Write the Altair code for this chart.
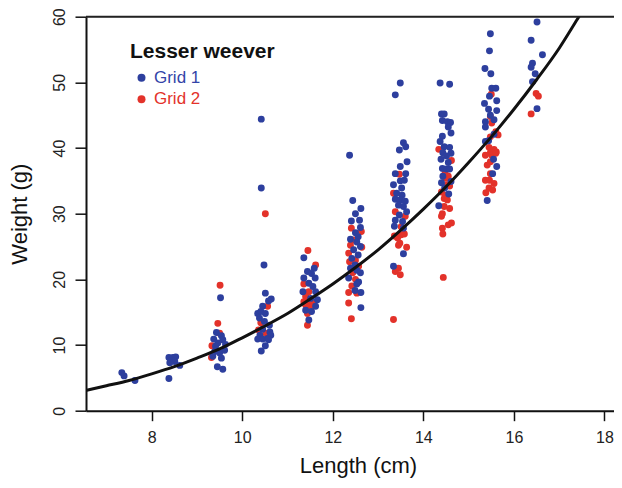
import altair as alt
import pandas as pd

# ---- Grid 1 (blue) : length (cm), weight (g)
g1_len = [7.34, 7.39, 7.63,
          8.38, 8.47, 8.53, 8.44, 8.51, 8.40, 8.62, 8.38,
          9.52, 9.43, 9.54, 9.37, 9.57, 9.46, 9.61, 9.39, 9.50, 9.35, 9.54, 9.45, 9.57, 9.63, 9.41,
          10.42, 10.42, 10.48, 10.51, 10.58, 10.64, 10.45, 10.34, 10.41, 10.51, 10.38, 10.49, 10.60,
          10.45, 10.61, 10.39, 10.63, 10.34, 10.45, 10.56, 10.51, 10.42, 10.58,
          11.36, 11.59, 11.44, 11.53, 11.36, 11.61, 11.47, 11.56, 11.34, 11.62, 11.51, 11.66, 11.62,
          11.40, 11.53, 11.47,
          12.37, 12.44, 12.62, 12.50, 12.41, 12.59, 12.61, 12.50, 12.56, 12.39, 12.53, 12.61, 12.46,
          12.56, 12.42, 12.49, 12.39, 12.53, 12.61, 12.35, 12.57, 12.53, 12.49, 12.62, 12.62,
          13.38, 13.49,
          13.56, 13.61, 13.47, 13.64, 13.49, 13.38, 13.61, 13.49, 13.58, 13.34, 13.52, 13.41, 13.53,
          13.38, 13.49, 13.60, 13.45, 13.56, 13.63, 13.47, 13.38, 13.54, 13.36, 13.56, 13.56, 13.34,
          14.37, 14.58, 14.40, 14.46, 14.42, 14.53, 14.60, 14.55, 14.61, 14.42, 14.37, 14.46, 14.58,
          14.43, 14.61, 14.51, 14.39, 14.55, 14.42, 14.51, 14.58, 14.43, 14.61, 14.40, 14.47, 14.56, 14.34,
          15.48, 15.46, 15.36, 15.49, 15.51, 15.60, 15.46, 15.62, 15.35, 15.44, 15.62, 15.48, 15.37,
          15.56, 15.37, 15.56, 15.37, 15.44, 15.55, 15.62, 15.53, 15.41,
          16.51, 16.38, 16.63, 16.41, 16.38, 16.47, 16.41, 16.51]
g1_wt = [5.8, 5.3, 4.6,
         8.1, 8.1, 8.2, 7.6, 7.5, 7.3, 6.9, 4.9,
         17.2, 11.9, 11.4, 10.9, 10.8, 10.3, 9.2, 9.0, 8.8, 8.3, 8.0, 6.7, 6.3, 10.1, 9.8,
         44.4, 33.9, 22.2, 17.9, 16.7, 17.0, 15.9, 14.8, 15.1, 14.8, 14.1, 13.6, 13.0,
         12.4, 12.0, 11.5, 11.5, 10.9, 10.9, 11.0, 9.9, 9.1, 10.8,
         23.3, 21.7, 21.2, 20.9, 20.2, 20.2, 19.4, 18.9, 18.1, 18.1, 17.1, 16.9, 15.9,
         15.3, 15.1, 13.8,
         38.9, 32.0, 30.8, 30.0, 28.9, 29.0, 27.9, 27.1, 26.5, 26.1, 25.7, 25.0, 24.5,
         23.7, 23.2, 22.2, 21.7, 21.4, 21.0, 20.2, 19.6, 19.3, 18.3, 18.0, 15.7,
         48.1, 49.9,
         40.8, 40.2, 39.7, 37.9, 37.2, 36.1, 36.1, 35.0, 35.1, 34.4, 33.9, 33.1, 32.8,
         32.2, 32.1, 31.9, 31.3, 31.1, 30.3, 29.8, 29.0, 28.8, 28.1, 27.8, 23.9, 22.0,
         49.9, 49.7, 45.2, 45.2, 44.2, 44.0, 43.9, 43.2, 42.3, 41.8, 41.0, 40.2, 40.1,
         39.3, 39.2, 38.8, 38.3, 37.8, 36.9, 36.8, 36.8, 35.7, 34.9, 34.7, 33.9, 33.0, 31.2,
         57.4, 54.8, 52.1, 51.3, 49.1, 49.1, 47.9, 47.2, 46.8, 45.9, 45.7, 45.0, 44.0,
         44.3, 43.2, 42.1, 41.0, 41.1, 38.3, 37.2, 36.1, 32.0,
         59.2, 56.4, 54.2, 52.9, 52.3, 51.3, 50.1, 46.0]

# ---- Grid 2 (red)
g2_len = [9.51, 9.46, 9.50, 9.33, 9.32,
          10.51, 10.56, 10.41, 10.36, 10.52,
          11.45, 11.62, 11.36, 11.47, 11.40, 11.36, 11.47, 11.56, 11.40, 11.51, 11.44, 11.44,
          12.41, 12.63, 12.46, 12.39, 12.64, 12.35, 12.50, 12.37, 12.57, 12.44, 12.50, 12.42,
          12.35, 12.53, 12.35, 12.41,
          13.47, 13.34, 13.38, 13.60, 13.51, 13.36, 13.43, 13.51, 13.58, 13.45, 13.63, 13.48,
          13.45, 13.38, 13.49, 13.34,
          14.34, 14.62, 14.48, 14.55, 14.49, 14.53, 14.58, 14.40, 14.48, 14.46, 14.53, 14.46,
          14.58, 14.42, 14.40, 14.42, 14.62, 14.55, 14.43, 14.44,
          15.50, 15.48, 15.51, 15.60, 15.65, 15.48, 15.45, 15.56, 15.61, 15.48, 15.37, 15.51,
          15.60, 15.48, 15.41, 15.48, 15.37, 15.46, 15.56, 15.45, 15.53, 15.38,
          16.49, 16.54, 16.38]
g2_wt = [19.1, 13.3, 11.8, 9.9, 8.1,
         30.0, 15.9, 13.4, 12.3, 11.8,
         24.4, 22.2, 19.3, 18.1, 17.4, 16.6, 16.6, 16.4, 16.1, 15.8, 14.8, 13.0,
         27.8, 27.3, 26.0, 25.2, 24.9, 24.0, 22.9, 22.7, 22.0, 21.0, 20.0, 19.0,
         18.0, 17.9, 16.4, 14.0,
         36.0, 33.1, 30.3, 29.6, 28.0, 26.6, 26.3, 26.8, 26.9, 25.2, 24.9, 25.5,
         21.7, 21.2, 20.7, 13.9,
         39.8, 38.1, 36.4, 35.7, 35.4, 34.4, 34.2, 33.3, 32.8, 32.3, 32.1, 31.1,
         30.8, 30.0, 29.6, 27.8, 28.6, 28.3, 26.9, 20.3,
         48.2, 44.8, 43.8, 42.5, 42.0, 41.7, 40.1, 39.8, 39.4, 39.3, 38.9, 38.9,
         39.2, 37.9, 37.4, 36.1, 35.1, 35.1, 34.6, 33.9, 33.6, 33.2,
         48.3, 47.9, 45.2]

# ---- fitted curve
curve_len = [6.55, 7.0, 7.5, 8.0, 8.5, 9.0, 9.5, 10.0, 10.5, 11.0, 11.5, 12.0, 12.5,
             13.0, 13.5, 14.0, 14.5, 15.0, 15.5, 16.0, 16.5, 17.0, 17.4, 17.6]
curve_wt = [3.1, 3.8, 4.6, 5.6, 6.7, 8.0, 9.4, 11.1, 12.9, 14.8, 17.0, 19.3, 21.8,
            24.5, 27.5, 30.7, 34.1, 37.8, 41.7, 45.9, 50.4, 55.2, 59.6, 61.8]

series = ["Grid 1", "Grid 2"]
colors = ["#2D3F9E", "#E3322A"]
x_ticks = [8, 10, 12, 14, 16, 18]
y_ticks = [0, 10, 20, 30, 40, 50, 60]

pts = pd.concat([
    pd.DataFrame({"len": g2_len, "wt": g2_wt, "grid": series[1]}),
    pd.DataFrame({"len": g1_len, "wt": g1_wt, "grid": series[0]}),
], ignore_index=True)
curve = pd.DataFrame({"len": curve_len, "wt": curve_wt})

xscale = alt.Scale(domain=[6.549, 18.21], nice=False, zero=False)
yscale = alt.Scale(domain=[0, 60], nice=False, zero=True)

xaxis = alt.Axis(values=x_ticks, tickSize=10, tickWidth=1.5, tickColor="#111",
                 domainColor="#111", domainWidth=2, grid=False,
                 labelFontSize=16, labelColor="#222", labelPadding=9, labelFlush=False,
                 labelOverlap=False,
                 title="Length (cm)", titleFontSize=22, titleFontWeight="normal",
                 titleColor="#111", titleX=272, titleY=62, titleAlign="center",
                 titleBaseline="alphabetic")
yaxis = alt.Axis(values=y_ticks, tickSize=11, tickWidth=1.5, tickColor="#111",
                 domainColor="#111", domainWidth=2, grid=False,
                 labelFontSize=16, labelColor="#222", labelPadding=8, labelFlush=False,
                 labelOverlap=False, labelAngle=270, labelAlign="center",
                 labelBaseline="bottom",
                 title="Weight (g)", titleFontSize=22, titleFontWeight="normal",
                 titleColor="#111", titleAngle=270, titleX=-59.5, titleY=197,
                 titleAlign="center", titleBaseline="alphabetic")

legend = alt.Legend(title="Lesser weever", orient="none", legendX=44, legendY=24,
                    padding=0, titleFontSize=21, titleFontWeight="bold",
                    titleColor="#111", titlePadding=7.5, titleBaseline="top",
                    labelFontSize=17,
                    labelColor={"expr": "datum.label == 'Grid 1' ? '#3344A8' : '#E3322A'"},
                    symbolSize=64, symbolType="circle", symbolOffset=3,
                    labelOffset=4, rowPadding=3.5, symbolStrokeWidth=0,
                    symbolOpacity=1)

points = alt.Chart(pts).mark_circle(size=48, opacity=1).encode(
    x=alt.X("len:Q", scale=xscale, axis=xaxis),
    y=alt.Y("wt:Q", scale=yscale, axis=yaxis),
    color=alt.Color("grid:N", scale=alt.Scale(domain=series, range=colors), legend=legend),
)

line = alt.Chart(curve).mark_line(color="#111", strokeWidth=3, clip=True,
                                  interpolate="monotone").encode(
    x=alt.X("len:Q", scale=xscale),
    y=alt.Y("wt:Q", scale=yscale),
)

top = alt.Chart(pd.DataFrame({"wt": [60]})).mark_rule(color="#222", strokeWidth=2).encode(
    y=alt.Y("wt:Q", scale=yscale),
)

chart = alt.layer(points, line, top).properties(
    width=528, height=394,
    padding={"left": 78, "top": 8.7, "right": 0, "bottom": 67},
    autosize=alt.AutoSizeParams(type="none"),
).configure_view(stroke=None).configure(font="Liberation Sans")

chart.save("out.html", embed_options={"renderer": "svg", "actions": False})
